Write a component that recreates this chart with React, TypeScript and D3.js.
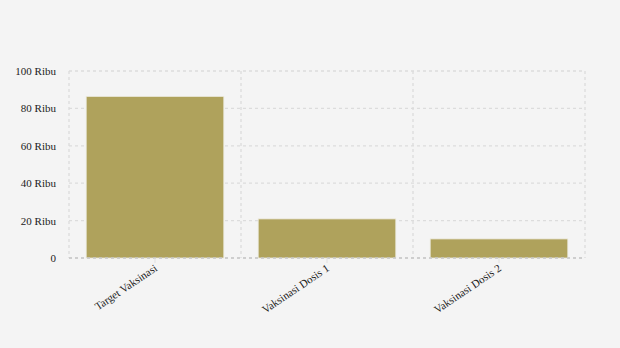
import React from "react";
import * as d3 from "d3";

const categories = ["Target Vaksinasi", "Vaksinasi Dosis 1", "Vaksinasi Dosis 2"];
const values = [86.4, 20.9, 10.2];
const yTicks = [0, 20, 40, 60, 80, 100];
const yTickLabels = ["0", "20 Ribu", "40 Ribu", "60 Ribu", "80 Ribu", "100 Ribu"];

export default function App() {
  const W = 620, H = 348;
  const left = 69, right = 585, top = 71, bottom = 258;
  const x = d3.scaleBand<string>().domain(categories).range([left, right]).paddingInner(0.2).paddingOuter(0.1);
  const xb = d3.scaleBand<string>().domain(categories).range([left, right]);
  const y = d3.scaleLinear().domain([0, 100]).range([bottom, top]);
  const font = "'Liberation Serif', 'Times New Roman', serif";
  const bandEdges = [left, ...categories.map((c) => (xb(c) as number) + xb.bandwidth())];
  return (
    <svg width={W} height={H} style={{ position: "absolute", left: 0, top: 0, background: "#f4f4f4" }}>
      <rect x={0} y={0} width={W} height={H} fill="#f4f4f4" />
      {yTicks.map((t) => (
        <line key={"g" + t} x1={left} x2={right} y1={y(t)} y2={y(t)} stroke="#dcdcdc" strokeWidth={1.3} strokeDasharray="3,3" />
      ))}
      {bandEdges.map((e, i) => (
        <line key={"v" + i} x1={e} x2={e} y1={top} y2={bottom} stroke="#dcdcdc" strokeWidth={1.3} strokeDasharray="3,3" />
      ))}
      {categories.map((c, i) => (
        <rect key={c} x={x(c)} y={y(values[i])} width={x.bandwidth()} height={bottom - y(values[i])} fill="#afa25c" stroke="#ece9dc" strokeWidth={0.8} />
      ))}
      <line x1={left} x2={right} y1={bottom} y2={bottom} stroke="#c8c8c8" strokeWidth={1.3} strokeDasharray="3,3" />
      {categories.map((c) => {
        const cx = (xb(c) as number) + xb.bandwidth() / 2;
        return (
          <g key={"t" + c}>
            <line x1={cx} x2={cx} y1={bottom} y2={bottom + 5} stroke="#e0e0e0" strokeWidth={1} />
            <text transform={`translate(${cx + 3},${bottom + 12}) rotate(-34)`} textAnchor="end" fontFamily={font} fontSize={11} fill="#222">
              {c}
            </text>
          </g>
        );
      })}
      {yTicks.map((t, i) => (
        <text key={"l" + t} x={56} y={y(t) + 4} textAnchor="end" fontFamily={font} fontSize={11} fill="#222">
          {yTickLabels[i]}
        </text>
      ))}
    </svg>
  );
}
